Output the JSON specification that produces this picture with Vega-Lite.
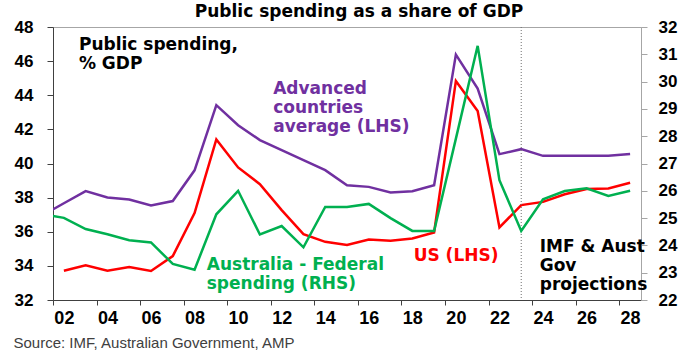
{
  "$schema": "https://vega.github.io/schema/vega-lite/v6.json",
  "autosize": {"type": "none"},
  "width": 588,
  "height": 273,
  "padding": {"left": 53, "top": 27, "right": 49, "bottom": 58},
  "background": "white",
  "config": {"view": {"stroke": "#a6a6a6", "strokeWidth": 1}, "font": "Liberation Sans", "axis": {"labelOverlap": false, "labelFlush": false}},
  "title": {"text": "Public spending as a share of GDP", "font": "DejaVu Sans", "fontSize": 17, "fontWeight": "bold", "color": "#000000", "anchor": "middle", "frame": "group", "dx": 12, "dy": 17, "baseline": "alphabetic", "offset": 1},
  "datasets": {
    "lhs": [
      {"year": 2001, "series": "Advanced", "value": 36.95},
      {"year": 2002, "series": "Advanced", "value": 37.67},
      {"year": 2003, "series": "Advanced", "value": 38.38},
      {"year": 2004, "series": "Advanced", "value": 38.01},
      {"year": 2005, "series": "Advanced", "value": 37.89},
      {"year": 2006, "series": "Advanced", "value": 37.54},
      {"year": 2007, "series": "Advanced", "value": 37.8},
      {"year": 2008, "series": "Advanced", "value": 39.6},
      {"year": 2009, "series": "Advanced", "value": 43.42},
      {"year": 2010, "series": "Advanced", "value": 42.24},
      {"year": 2011, "series": "Advanced", "value": 41.37},
      {"year": 2012, "series": "Advanced", "value": 40.78},
      {"year": 2013, "series": "Advanced", "value": 40.2},
      {"year": 2014, "series": "Advanced", "value": 39.61},
      {"year": 2015, "series": "Advanced", "value": 38.73},
      {"year": 2016, "series": "Advanced", "value": 38.63},
      {"year": 2017, "series": "Advanced", "value": 38.3},
      {"year": 2018, "series": "Advanced", "value": 38.38},
      {"year": 2019, "series": "Advanced", "value": 38.73},
      {"year": 2020, "series": "Advanced", "value": 46.38},
      {"year": 2021, "series": "Advanced", "value": 44.39},
      {"year": 2022, "series": "Advanced", "value": 40.55},
      {"year": 2023, "series": "Advanced", "value": 40.84},
      {"year": 2024, "series": "Advanced", "value": 40.45},
      {"year": 2025, "series": "Advanced", "value": 40.45},
      {"year": 2026, "series": "Advanced", "value": 40.45},
      {"year": 2027, "series": "Advanced", "value": 40.45},
      {"year": 2028, "series": "Advanced", "value": 40.55},
      {"year": 2002, "series": "US", "value": 33.71},
      {"year": 2003, "series": "US", "value": 34.03},
      {"year": 2004, "series": "US", "value": 33.71},
      {"year": 2005, "series": "US", "value": 33.93},
      {"year": 2006, "series": "US", "value": 33.7},
      {"year": 2007, "series": "US", "value": 34.57},
      {"year": 2008, "series": "US", "value": 37.09},
      {"year": 2009, "series": "US", "value": 41.41},
      {"year": 2010, "series": "US", "value": 39.77},
      {"year": 2011, "series": "US", "value": 38.79},
      {"year": 2012, "series": "US", "value": 37.27},
      {"year": 2013, "series": "US", "value": 35.86},
      {"year": 2014, "series": "US", "value": 35.41},
      {"year": 2015, "series": "US", "value": 35.22},
      {"year": 2016, "series": "US", "value": 35.55},
      {"year": 2017, "series": "US", "value": 35.47},
      {"year": 2018, "series": "US", "value": 35.61},
      {"year": 2019, "series": "US", "value": 35.96},
      {"year": 2020, "series": "US", "value": 44.84},
      {"year": 2021, "series": "US", "value": 43.08},
      {"year": 2022, "series": "US", "value": 36.25},
      {"year": 2023, "series": "US", "value": 37.56},
      {"year": 2024, "series": "US", "value": 37.75},
      {"year": 2025, "series": "US", "value": 38.2},
      {"year": 2026, "series": "US", "value": 38.5},
      {"year": 2027, "series": "US", "value": 38.54},
      {"year": 2028, "series": "US", "value": 38.87}
    ],
    "aus": [
      {"year": 2001, "series": "Australia", "value": 25.15},
      {"year": 2002, "series": "Australia", "value": 25.01},
      {"year": 2003, "series": "Australia", "value": 24.6},
      {"year": 2004, "series": "Australia", "value": 24.41},
      {"year": 2005, "series": "Australia", "value": 24.19},
      {"year": 2006, "series": "Australia", "value": 24.11},
      {"year": 2007, "series": "Australia", "value": 23.32},
      {"year": 2008, "series": "Australia", "value": 23.11},
      {"year": 2009, "series": "Australia", "value": 25.14},
      {"year": 2010, "series": "Australia", "value": 26.0},
      {"year": 2011, "series": "Australia", "value": 24.4},
      {"year": 2012, "series": "Australia", "value": 24.71},
      {"year": 2013, "series": "Australia", "value": 23.93},
      {"year": 2014, "series": "Australia", "value": 25.41},
      {"year": 2015, "series": "Australia", "value": 25.41},
      {"year": 2016, "series": "Australia", "value": 25.52},
      {"year": 2017, "series": "Australia", "value": 25.0},
      {"year": 2018, "series": "Australia", "value": 24.53},
      {"year": 2019, "series": "Australia", "value": 24.53},
      {"year": 2020, "series": "Australia", "value": 27.91},
      {"year": 2021, "series": "Australia", "value": 31.31},
      {"year": 2022, "series": "Australia", "value": 26.39},
      {"year": 2023, "series": "Australia", "value": 24.53},
      {"year": 2024, "series": "Australia", "value": 25.69},
      {"year": 2025, "series": "Australia", "value": 25.99},
      {"year": 2026, "series": "Australia", "value": 26.09},
      {"year": 2027, "series": "Australia", "value": 25.81},
      {"year": 2028, "series": "Australia", "value": 26.0}
    ],
    "notes": [
      {"label": "Public spending,\n% GDP", "series": "Note", "year": 2002.69, "value": 46.64},
      {"label": "Advanced\ncountries\naverage (LHS)", "series": "Advanced", "year": 2011.61, "value": 44.06},
      {"label": "Australia - Federal\nspending (RHS)", "series": "Australia", "year": 2008.56, "value": 33.76},
      {"label": "US (LHS)", "series": "US", "year": 2018.06, "value": 34.3},
      {"label": "IMF & Aust\nGov\nprojections", "series": "Note", "year": 2023.85, "value": 34.79}
    ],
    "divider": [{"year": 2023}]
  },
  "layer": [
    {
      "layer": [
        {
          "data": {"name": "lhs"},
          "mark": {"type": "line", "strokeWidth": 2.5, "clip": true},
          "encoding": {
            "x": {"field": "year", "type": "quantitative",
              "scale": {"domain": [2001.5, 2028.5], "nice": false, "zero": false},
              "axis": {"values": [2002, 2004, 2006, 2008, 2010, 2012, 2014, 2016, 2018, 2020, 2022, 2024, 2026, 2028],
                "format": "d", "labelExpr": "slice(datum.label, 2)",
                "tickOffset": -10.9, "labelOffset": 10.9, "labelFlush": false, "labelOverlap": false,
                "tickSize": 5, "tickColor": "#404040", "domainColor": "#404040", "grid": false,
                "labelFont": "Liberation Sans", "labelFontSize": 18, "labelFontWeight": "bold", "labelColor": "#000000", "labelPadding": 4,
                "title": "Source: IMF, Australian Government, AMP", "titleFont": "Liberation Sans", "titleFontSize": 15, "titleFontWeight": "normal",
                "titleColor": "#404040", "titleAnchor": "start", "titleAlign": "left", "titleX": -40, "titleY": 47, "titleBaseline": "alphabetic"}},
            "y": {"field": "value", "type": "quantitative",
              "scale": {"domain": [32, 48], "nice": false, "zero": false},
              "axis": {"values": [32, 34, 36, 38, 40, 42, 44, 46, 48], "title": null, "grid": false, "labelOverlap": false, "labelFlush": false,
                "tickSize": 6, "tickColor": "#404040", "domainColor": "#404040",
                "labelFont": "Liberation Sans", "labelFontSize": 17, "labelFontWeight": "bold", "labelColor": "#000000", "labelPadding": 14}},
            "color": {"field": "series", "type": "nominal",
              "scale": {"domain": ["Advanced", "US", "Australia", "Note"], "range": ["#7030A0", "#FF0000", "#00B050", "#000000"]},
              "legend": null},
            "detail": {"field": "series"}
          }
        },
        {
          "data": {"name": "divider"},
          "mark": {"type": "rule", "color": "#707070", "strokeWidth": 1, "strokeDash": [1, 2]},
          "encoding": {"x": {"field": "year", "type": "quantitative"}}
        },
        {
          "data": {"name": "notes"},
          "mark": {"type": "text", "font": "DejaVu Sans", "fontSize": 17, "fontWeight": "bold", "align": "left", "baseline": "alphabetic", "lineBreak": "\n", "lineHeight": 19},
          "encoding": {
            "x": {"field": "year", "type": "quantitative"},
            "y": {"field": "value", "type": "quantitative",
              "axis": {"values": [32, 34, 36, 38, 40, 42, 44, 46, 48], "title": null, "grid": false, "labelOverlap": false, "labelFlush": false,
                "tickSize": 6, "tickColor": "#404040", "domainColor": "#404040",
                "labelFont": "Liberation Sans", "labelFontSize": 17, "labelFontWeight": "bold", "labelColor": "#000000", "labelPadding": 14}},
            "text": {"field": "label"},
            "color": {"field": "series", "type": "nominal", "legend": null}
          }
        }
      ]
    },
    {
      "data": {"name": "aus"},
      "mark": {"type": "line", "strokeWidth": 2.5, "clip": true},
      "encoding": {
        "x": {"field": "year", "type": "quantitative"},
        "y": {"field": "value", "type": "quantitative",
          "scale": {"domain": [22, 32], "nice": false, "zero": false},
          "axis": {"orient": "right", "values": [22, 23, 24, 25, 26, 27, 28, 29, 30, 31, 32], "title": null, "grid": false, "labelOverlap": false, "labelFlush": false,
            "tickSize": 6, "tickColor": "#a6a6a6", "domainColor": "#a6a6a6",
            "labelFont": "Liberation Sans", "labelFontSize": 17, "labelFontWeight": "bold", "labelColor": "#000000", "labelPadding": 11}},
        "color": {"field": "series", "type": "nominal", "legend": null}
      }
    }
  ],
  "resolve": {"scale": {"y": "independent"}, "axis": {"y": "independent"}}
}
